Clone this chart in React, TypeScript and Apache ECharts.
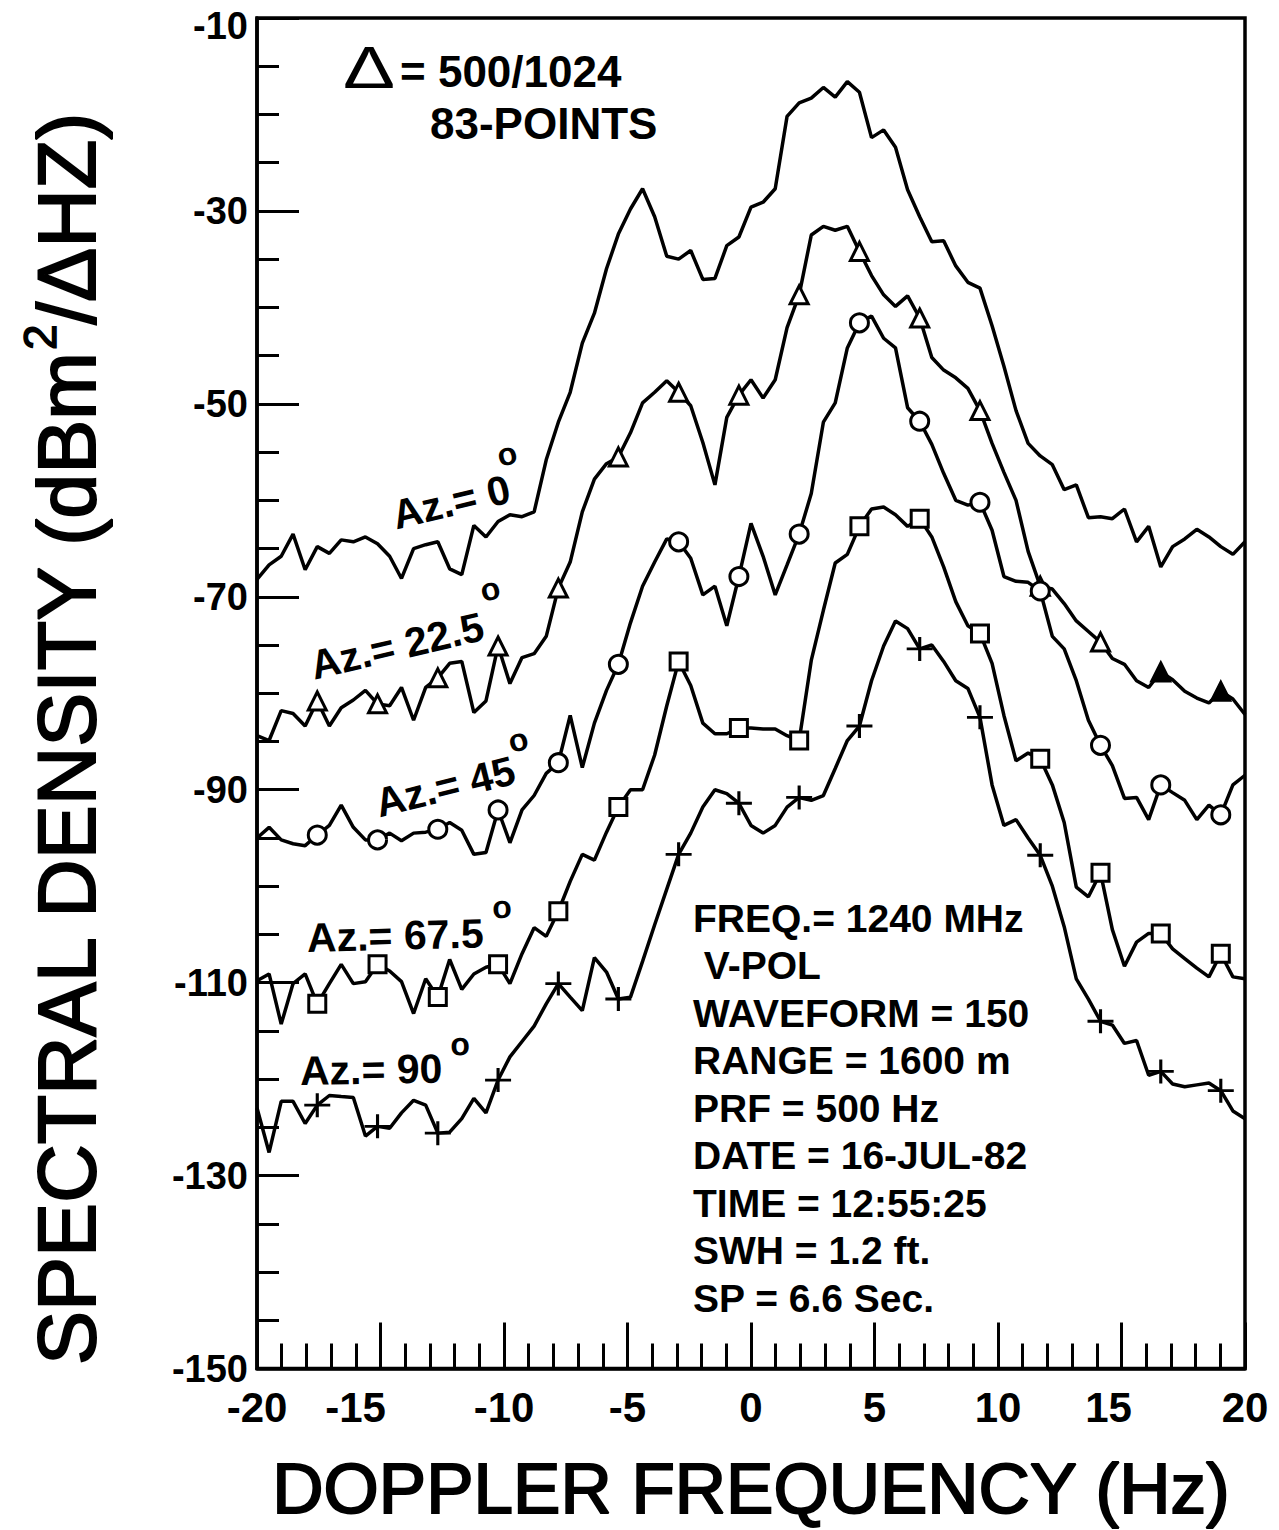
import React, { useEffect, useRef } from 'react';
import * as echarts from 'echarts';

// Doppler frequency grid (Hz): 83 spectral points across -20..20 Hz
const FREQ_HZ = [
  -20.0, -19.51, -19.02, -18.54, -18.05, -17.56, -17.07, -16.59, -16.1, -15.61,
  -15.12, -14.63, -14.15, -13.66, -13.17, -12.68, -12.2, -11.71, -11.22, -10.73,
  -10.24, -9.76, -9.27, -8.78, -8.29, -7.8, -7.32, -6.83, -6.34, -5.85,
  -5.37, -4.88, -4.39, -3.9, -3.41, -2.93, -2.44, -1.95, -1.46, -0.98,
  -0.49, 0.0, 0.49, 0.98, 1.46, 1.95, 2.44, 2.93, 3.41, 3.9,
  4.39, 4.88, 5.37, 5.85, 6.34, 6.83, 7.32, 7.8, 8.29, 8.78,
  9.27, 9.76, 10.24, 10.73, 11.22, 11.71, 12.2, 12.68, 13.17, 13.66,
  14.15, 14.63, 15.12, 15.61, 16.1, 16.59, 17.07, 17.56, 18.05, 18.54,
  19.02, 19.51, 20.0,
];

// Spectral density (dBm^2/ΔHz) for each azimuth
const AZ_0 = [
  -68.2, -66.7, -65.8, -63.5, -67.2, -64.8, -65.5, -64.1, -64.3, -63.8,
  -64.5, -65.8, -68.1, -65.0, -64.6, -64.3, -67.1, -67.7, -62.6, -63.8,
  -62.2, -61.5, -61.7, -61.2, -55.8, -51.9, -48.8, -43.7, -40.6, -36.0,
  -32.4, -29.8, -27.7, -30.6, -34.7, -35.0, -34.1, -37.1, -37.0, -33.6,
  -32.7, -29.6, -29.1, -27.7, -20.2, -18.8, -18.3, -17.2, -18.2, -16.6,
  -17.7, -22.4, -21.6, -23.4, -27.8, -30.6, -33.2, -33.1, -35.7, -37.4,
  -38.0, -41.9, -46.1, -50.7, -54.1, -55.4, -56.3, -58.9, -58.4, -61.8,
  -61.7, -61.9, -60.9, -64.3, -62.7, -66.9, -64.8, -64.0, -63.0, -63.8,
  -64.8, -65.6, -64.3,
];
const AZ_22_5 = [
  -84.4, -84.9, -81.8, -82.1, -83.4, -80.8, -83.4, -81.5, -80.7, -79.7,
  -81.1, -81.3, -79.4, -82.8, -79.4, -78.4, -76.9, -76.7, -82.0, -80.8,
  -75.1, -79.0, -76.3, -75.9, -74.1, -69.1, -66.4, -61.2, -57.8, -56.2,
  -55.5, -53.0, -49.9, -48.8, -47.6, -48.8, -50.2, -54.0, -58.4, -51.4,
  -49.1, -47.5, -49.4, -47.5, -42.1, -38.7, -32.5, -31.6, -32.0, -31.6,
  -34.2, -36.7, -38.7, -39.9, -38.8, -41.1, -45.2, -46.5, -47.3, -48.4,
  -50.7, -54.1, -57.1, -60.0, -65.3, -68.9, -69.2, -70.7, -72.5, -73.6,
  -74.7, -76.4, -77.0, -78.7, -79.4, -77.8, -78.6, -79.8, -80.5, -81.0,
  -79.8, -80.6, -82.2,
];
const AZ_45 = [
  -95.0, -93.9, -95.2, -95.6, -95.8, -94.7, -93.7, -91.6, -93.9, -95.2,
  -95.2, -94.5, -95.3, -94.5, -94.4, -94.1, -93.4, -94.2, -96.7, -96.5,
  -92.1, -95.5, -92.1, -90.6, -88.3, -87.2, -82.3, -87.7, -83.1, -79.7,
  -77.0, -72.7, -68.9, -66.4, -64.0, -64.3, -66.0, -69.8, -68.9, -73.0,
  -67.9, -62.4, -65.8, -69.8, -66.7, -63.5, -59.3, -51.9, -49.9, -44.2,
  -41.6, -40.9, -43.2, -44.2, -50.4, -51.8, -54.2, -57.2, -60.0, -60.5,
  -60.2, -63.1, -67.9, -68.4, -68.5, -69.4, -74.1, -75.4, -78.7, -82.8,
  -85.4, -87.5, -90.9, -90.8, -93.1, -89.5, -90.3, -91.1, -93.1, -91.6,
  -92.6, -89.5, -88.5,
];
const AZ_67_5 = [
  -109.8, -109.1, -114.3, -110.1, -109.1, -112.2, -110.1, -108.1, -110.1, -109.9,
  -108.1, -108.8, -109.9, -113.2, -109.6, -111.5, -107.6, -110.7, -109.1, -108.4,
  -108.1, -110.1, -107.0, -104.3, -105.2, -102.6, -99.5, -96.7, -97.3, -94.4,
  -91.8, -90.0, -90.0, -86.4, -81.3, -76.7, -79.2, -83.1, -84.2, -84.2,
  -83.6, -83.6, -83.7, -83.7, -84.4, -84.9, -76.6, -71.4, -66.5, -65.6,
  -62.7, -60.9, -60.7, -61.5, -62.7, -61.9, -63.8, -66.9, -70.5, -73.0,
  -73.8, -76.9, -82.3, -87.0, -86.2, -86.8, -89.5, -93.4, -100.1, -101.1,
  -98.6, -104.5, -108.3, -105.8, -104.9, -104.9, -106.5, -107.5, -108.5, -109.4,
  -107.0, -109.4, -109.6,
];
const AZ_90 = [
  -123.0, -127.6, -122.3, -122.3, -124.6, -122.7, -121.7, -121.8, -121.9, -125.9,
  -124.9, -125.1, -123.5, -122.2, -122.7, -125.6, -125.5, -124.1, -122.0, -123.5,
  -120.1, -117.7, -116.1, -114.5, -112.2, -110.1, -111.5, -112.9, -107.4, -108.9,
  -111.7, -111.5, -107.8, -104.0, -100.3, -96.7, -94.5, -91.8, -90.0, -90.4,
  -91.4, -93.7, -94.5, -93.7, -91.8, -90.8, -91.1, -90.6, -87.8, -84.9,
  -83.4, -78.7, -75.1, -72.5, -73.3, -75.4, -75.0, -76.7, -78.7, -79.5,
  -82.5, -89.5, -93.7, -93.1, -95.0, -96.8, -100.0, -104.2, -109.6, -111.7,
  -114.0, -114.4, -116.3, -116.0, -119.6, -119.2, -120.5, -120.8, -120.6, -120.4,
  -121.2, -123.3, -124.1,
];

const MARKER_EVERY = 5;
const FILLED_TRIANGLE_INDEX = [75, 80];

const X_LABEL_SHIFTED = [-15, 15];
const Y_LABEL_LOWERED = -10;
const AXIS_NAME_X = 'DOPPLER FREQUENCY (Hz)';
const LEGEND_TOP = ['Δ', '= 500/1024', '83-POINTS'];
const AZ_LABELS = ['Az.= 0', 'Az.= 22.5', 'Az.= 45', 'Az.= 67.5', 'Az.= 90'];
const INFO_LINES = [
  'FREQ.= 1240 MHz',
  ' V-POL',
  'WAVEFORM = 150',
  'RANGE = 1600 m',
  'PRF = 500 Hz',
  'DATE = 16-JUL-82',
  'TIME = 12:55:25',
  'SWH = 1.2 ft.',
  'SP = 6.6 Sec.',
];

const FONT = '"Liberation Sans", Arial, Helvetica, sans-serif';
const PLUS_PATH = 'path://M0,12L26,12M13,0L13,24';

const CURVES = [
  { name: AZ_LABELS[0], values: AZ_0, symbol: null as string | null, size: 0 },
  { name: AZ_LABELS[1], values: AZ_22_5, symbol: 'triangle', size: 18 },
  { name: AZ_LABELS[2], values: AZ_45, symbol: 'circle', size: 18 },
  { name: AZ_LABELS[3], values: AZ_67_5, symbol: 'rect', size: 17 },
  { name: AZ_LABELS[4], values: AZ_90, symbol: PLUS_PATH, size: 26 },
];

// label placement (left-middle anchor, rotation in degrees) and degree-mark positions
const AZ_LABEL_POS = [
  { x: 393, y: 516, rot: 13.4, ox: 507, oy: 454 },
  { x: 311, y: 666, rot: 13.1, ox: 490, oy: 589 },
  { x: 376, y: 804, rot: 14, ox: 518, oy: 740 },
  { x: 307, y: 938, rot: 1.5, ox: 502, oy: 907 },
  { x: 300, y: 1071, rot: 1, ox: 460, oy: 1044 },
];

function buildOption() {
  const series: any[] = [];
  CURVES.forEach((c) => {
    series.push({
      name: c.name,
      type: 'line',
      data: FREQ_HZ.map((f, i) => [f, c.values[i]]),
      symbol: 'none',
      lineStyle: { color: '#000', width: 3.5 },
      z: 2,
    });
    if (c.symbol) {
      const pts: any[] = [];
      FREQ_HZ.forEach((f, i) => {
        if (i > 0 && i % MARKER_EVERY === 0) {
          const item: any = { value: [f, c.values[i]] };
          if (c.symbol === 'triangle' && FILLED_TRIANGLE_INDEX.includes(i)) {
            item.itemStyle = { color: '#000' };
          }
          pts.push(item);
        }
      });
      const isPlus = c.symbol === PLUS_PATH;
      series.push({
        name: c.name + ' markers',
        type: 'scatter',
        data: pts,
        symbol: c.symbol,
        symbolSize: isPlus ? [26, 24] : c.size,
        itemStyle: {
          color: isPlus ? 'rgba(0,0,0,0)' : '#fff',
          borderColor: '#000',
          borderWidth: 3,
          opacity: 1,
        },
        z: 3,
      });
    }
  });

  const graphic: any[] = [];
  // Y axis title
  graphic.push({
    type: 'text',
    x: 67,
    y: 740,
    rotation: Math.PI / 2,
    style: {
      text: '{a|SPECTRAL DENSITY (dBm}{s|2}{a|/ΔHZ)}',
      align: 'center',
      verticalAlign: 'middle',
      rich: {
        a: { fontSize: 81, fontFamily: FONT, fill: '#000', stroke: '#000', lineWidth: 2, lineHeight: 100 },
        s: { fontSize: 46, fontFamily: FONT, fill: '#000', stroke: '#000', lineWidth: 1.5, lineHeight: 14, verticalAlign: 'top' },
      },
    },
  });
  // top legend
  graphic.push({
    type: 'text', x: 369, y: 67, scaleX: 1.3,
    style: { text: LEGEND_TOP[0], fontSize: 60, fontFamily: FONT, fill: '#000', align: 'center', verticalAlign: 'middle' },
  });
  graphic.push({
    type: 'text', x: 400, y: 71,
    style: { text: LEGEND_TOP[1], fontSize: 44, fontWeight: 'bold', fontFamily: FONT, fill: '#000', align: 'left', verticalAlign: 'middle' },
  });
  graphic.push({
    type: 'text', x: 430, y: 123,
    style: { text: LEGEND_TOP[2], fontSize: 44, fontWeight: 'bold', fontFamily: FONT, fill: '#000', align: 'left', verticalAlign: 'middle' },
  });
  // info block
  INFO_LINES.forEach((t, k) => {
    graphic.push({
      type: 'text', x: 693, y: 918 + k * 47.5,
      style: { text: t, fontSize: 39, fontWeight: 'bold', fontFamily: FONT, fill: '#000', align: 'left', verticalAlign: 'middle' },
    });
  });
  // azimuth labels
  AZ_LABELS.forEach((t, k) => {
    const p = AZ_LABEL_POS[k];
    graphic.push({
      type: 'text', x: p.x, y: p.y, rotation: (p.rot * Math.PI) / 180,
      style: { text: t, fontSize: 41, fontWeight: 'bold', fontFamily: FONT, fill: '#000', align: 'left', verticalAlign: 'middle' },
    });
    graphic.push({
      type: 'text', x: p.ox, y: p.oy, rotation: (p.rot * Math.PI) / 180,
      style: { text: 'o', fontSize: 32, fontWeight: 'bold', fontFamily: FONT, fill: '#000', align: 'center', verticalAlign: 'middle' },
    });
  });

  return {
    animation: false,
    backgroundColor: '#fff',
    textStyle: { fontFamily: FONT, color: '#000' },
    grid: {
      left: 257,
      top: 18,
      width: 988,
      height: 1359,
      show: true,
      borderColor: '#000',
      borderWidth: 3.5,
      backgroundColor: 'transparent',
    },
    xAxis: {
      type: 'value',
      min: -20,
      max: 20,
      interval: 5,
      name: AXIS_NAME_X,
      nameLocation: 'middle',
      nameGap: 120,
      nameTextStyle: {
        fontSize: 71,
        fontFamily: FONT,
        color: '#000',
        verticalAlign: 'middle',
        textBorderColor: '#000',
        textBorderWidth: 2,
      },
      axisLine: { show: true, onZero: false, lineStyle: { color: '#000', width: 3.5 } },
      axisTick: { show: true, inside: true, length: 46, lineStyle: { color: '#000', width: 3 } },
      minorTick: { show: true, splitNumber: 5, length: 25, lineStyle: { color: '#000', width: 3 } },
      splitLine: { show: false },
      minorSplitLine: { show: false },
      axisLabel: {
        fontSize: 42,
        fontWeight: 'bold',
        fontFamily: FONT,
        color: '#000',
        margin: 18,
        formatter: (v: number) => {
          if (v === X_LABEL_SHIFTED[0]) return '{l|' + v + '}';
          if (v === X_LABEL_SHIFTED[1]) return '{m|' + v + '}';
          return String(v);
        },
        rich: {
          l: { fontSize: 42, fontWeight: 'bold', fontFamily: FONT, color: '#000', padding: [0, 50, 0, 0] },
          m: { fontSize: 42, fontWeight: 'bold', fontFamily: FONT, color: '#000', padding: [0, 26, 0, 0] },
        },
      },
    },
    yAxis: {
      type: 'value',
      min: -150,
      max: -10,
      interval: 20,
      axisLine: { show: true, onZero: false, lineStyle: { color: '#000', width: 3.5 } },
      axisTick: { show: true, inside: true, length: 42, lineStyle: { color: '#000', width: 3 } },
      minorTick: { show: true, splitNumber: 4, length: 22, lineStyle: { color: '#000', width: 3 } },
      splitLine: { show: false },
      minorSplitLine: { show: false },
      axisLabel: {
        fontSize: 38,
        fontWeight: 'bold',
        fontFamily: FONT,
        color: '#000',
        margin: 9,
        formatter: (v: number) => (v === Y_LABEL_LOWERED ? '{t|' + v + '}' : String(v)),
        rich: {
          t: { fontSize: 38, fontWeight: 'bold', fontFamily: FONT, color: '#000', padding: [16, 0, 0, 0] },
        },
      },
    },
    series,
    graphic,
  };
}

export default function App() {
  const ref = useRef<HTMLDivElement>(null);
  useEffect(() => {
    document.body.style.margin = '0';
    const chart = echarts.init(ref.current as HTMLDivElement, null, { renderer: 'svg' });
    chart.setOption(buildOption() as any);
    return () => {
      chart.dispose();
    };
  }, []);
  return <div ref={ref} style={{ width: 1279, height: 1530, background: '#fff' }} />;
}
